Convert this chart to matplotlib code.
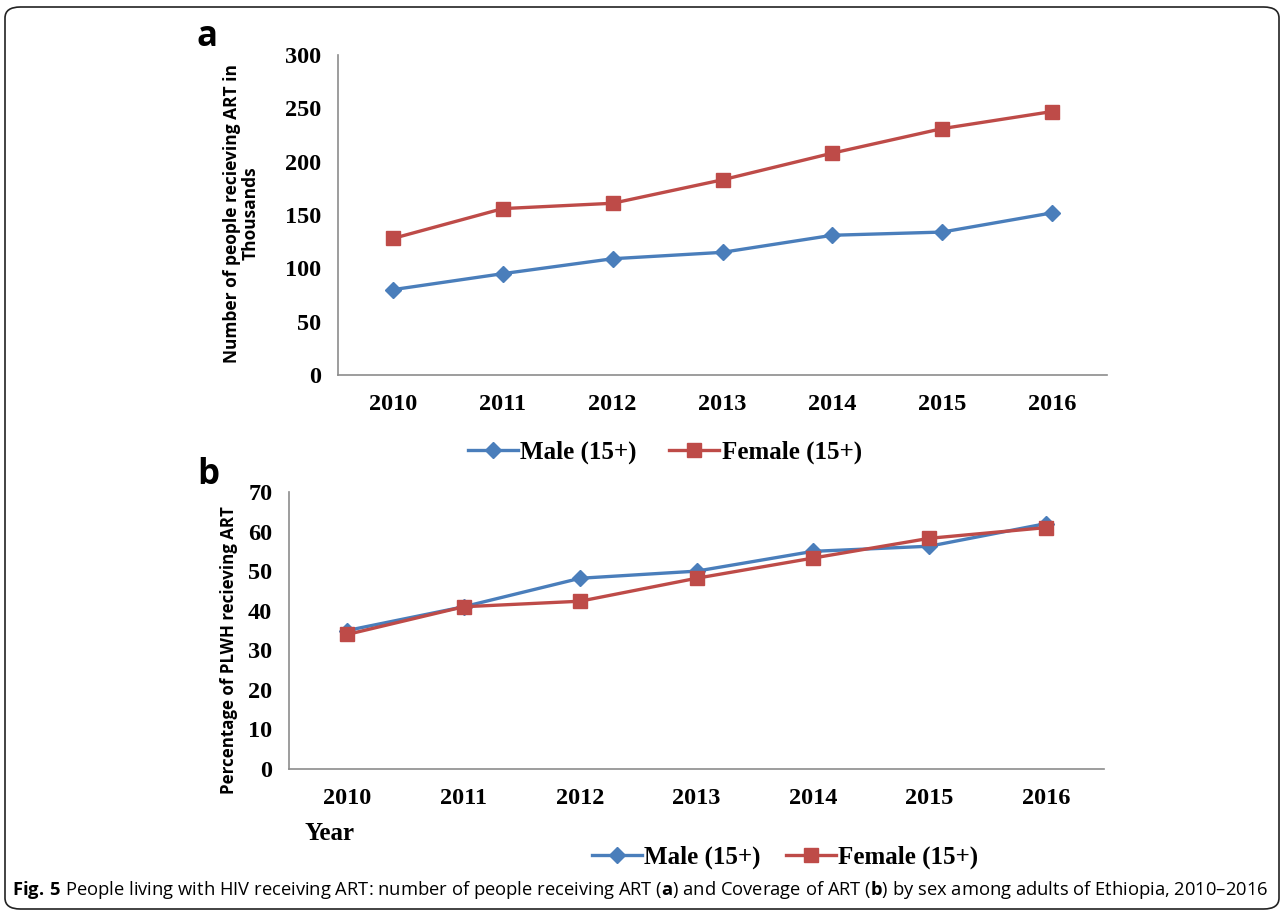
import matplotlib.pyplot as plt
from matplotlib.patches import FancyBboxPatch

years = ['2010', '2011', '2012', '2013', '2014', '2015', '2016']
male_num = [80, 95, 109, 115, 131, 134, 152]
female_num = [128, 156, 161, 183, 208, 231, 247]
male_pct = [35, 41, 48.2, 50, 55, 56.3, 62]
female_pct = [34, 41, 42.4, 48.2, 53.3, 58.3, 61]

blue = '#4a7ebb'
red = '#be4b48'
serif = 'Liberation Serif'

plt.rcParams['mathtext.fontset'] = 'custom'
plt.rcParams['mathtext.bf'] = 'Open Sans:bold'
plt.rcParams['mathtext.rm'] = 'Open Sans'

fig = plt.figure(figsize=(12.84, 9.15), dpi=100)

border = FancyBboxPatch((5 / 1284, 6 / 915), 1274 / 1284, 902 / 915,
                        boxstyle='round,pad=0,rounding_size=0.012',
                        transform=fig.transFigure, fill=False,
                        edgecolor='#222222', linewidth=1.2)
fig.patches.append(border)


def style_axes(ax, ymax, step):
    x = range(len(years))
    ax.set_xlim(-0.5, len(years) - 0.5)
    ax.set_ylim(0, ymax)
    ax.set_xticks(list(x))
    ax.set_xticklabels(years)
    ax.set_yticks(range(0, ymax + 1, step))
    for s in ['top', 'right']:
        ax.spines[s].set_visible(False)
    for s in ['left', 'bottom']:
        ax.spines[s].set_color('#8c8c8c')
        ax.spines[s].set_linewidth(1.2)
    ax.tick_params(length=0, pad=12)
    for lab in ax.get_xticklabels() + ax.get_yticklabels():
        lab.set_fontfamily(serif)
        lab.set_fontweight('bold')
        lab.set_fontsize(17.5)
    ax.tick_params(axis='x', pad=14)


# panel a
ax1 = fig.add_axes([338 / 1284, 1 - 375 / 915, (1107 - 338) / 1284, 320 / 915])
x = list(range(len(years)))
ax1.plot(x, male_num, color=blue, lw=2.4, marker='D', ms=8, label='Male (15+)')
ax1.plot(x, female_num, color=red, lw=2.4, marker='s', ms=10.5, label='Female (15+)')
style_axes(ax1, 300, 50)
ax1.set_ylabel('Number of people recieving ART in\nThousands', fontfamily='Open Sans',
               fontweight='bold', fontsize=12.5, linespacing=1.05)
ax1.yaxis.set_label_coords(-0.102, 0.506)
ax1.legend(loc='center', bbox_to_anchor=(665 / 1284, 1 - 452 / 915),
           bbox_transform=fig.transFigure, ncol=2, frameon=False,
           prop={'family': serif, 'weight': 'bold', 'size': 18},
           handlelength=2.0, columnspacing=1.3, handletextpad=0.1)

# panel b
ax2 = fig.add_axes([289 / 1284, 1 - 769 / 915, (1104 - 289) / 1284, 277 / 915])
ax2.plot(x, male_pct, color=blue, lw=2.4, marker='D', ms=8, label='Male (15+)')
ax2.plot(x, female_pct, color=red, lw=2.4, marker='s', ms=10.5, label='Female (15+)')
style_axes(ax2, 70, 10)
ax2.set_ylabel('Percentage of PLWH recieving ART', fontfamily='Open Sans',
               fontweight='bold', fontsize=12.2)
ax2.yaxis.set_label_coords(-0.062, 0.43)
ax2.legend(loc='center', bbox_to_anchor=(785 / 1284, 1 - 857 / 915),
           bbox_transform=fig.transFigure, ncol=2, frameon=False,
           prop={'family': serif, 'weight': 'bold', 'size': 18},
           handlelength=2.0, columnspacing=1.0, handletextpad=0.1)

fig.text(330 / 1284, 1 - 833 / 915, 'Year', fontfamily=serif, fontweight='bold',
         fontsize=18, ha='center', va='center')

fig.text(207 / 1284, 1 - 37 / 915, 'a', fontfamily='Open Sans', fontweight='bold',
         fontsize=25, ha='center', va='center')
fig.text(208 / 1284, 1 - 475 / 915, 'b', fontfamily='Open Sans', fontweight='bold',
         fontsize=25, ha='center', va='center')

caption = (r'$\mathbf{Fig.\,5}$ People living with HIV receiving ART: number of people '
           r'receiving ART ($\mathbf{a}$) and Coverage of ART ($\mathbf{b}$) by sex among '
           'adults of Ethiopia, 2010\u20132016')
fig.text(12 / 1284, 1 - 890 / 915, caption, fontfamily='Open Sans', fontsize=13.2,
         ha='left', va='center')

fig.savefig('out.png', dpi=100)
